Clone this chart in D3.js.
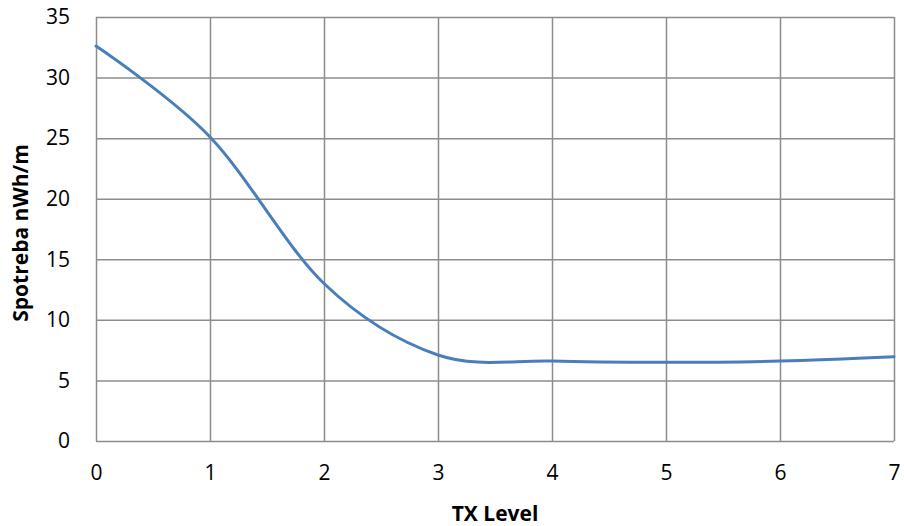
<!DOCTYPE html>
<html><head><meta charset="utf-8">
<script src="https://cdn.jsdelivr.net/npm/d3@7"></script>
<style>body{margin:0;background:#fff}svg{display:block}</style>
</head><body>
<script>
const txLevels = [0, 1, 2, 3, 4, 5, 6, 7];
const consumption = [32.6, 25.1, 13.0, 7.1, 6.6, 6.5, 6.6, 6.95];
const yTicks = [0, 5, 10, 15, 20, 25, 30, 35];
const xTicks = [0, 1, 2, 3, 4, 5, 6, 7];

const W = 904, H = 526;
const m = {left: 96, right: 10, top: 17, bottom: 85};
const svg = d3.select("body").append("svg").attr("width", W).attr("height", H);
const x = d3.scaleLinear().domain([0, 7]).range([m.left, W - m.right]);
const y = d3.scaleLinear().domain([0, 35]).range([H - m.bottom, m.top]);
const font = "'Open Sans', 'Liberation Sans', sans-serif";
const gridCol = "#8c8c8c";

// grid
svg.append("g").attr("transform", `translate(0,${H - m.bottom})`)
  .call(d3.axisBottom(x).tickValues(xTicks).tickSize(-(H - m.top - m.bottom)).tickFormat(""))
  .call(g => g.select(".domain").remove())
  .call(g => g.selectAll("line").attr("stroke", gridCol).attr("stroke-width", 1.5));
svg.append("g").attr("transform", `translate(${m.left},0)`)
  .call(d3.axisLeft(y).tickValues(yTicks).tickSize(-(W - m.left - m.right)).tickFormat(""))
  .call(g => g.select(".domain").remove())
  .call(g => g.selectAll("line").attr("stroke", gridCol).attr("stroke-width", 1.5));

// tick labels
svg.append("g").attr("transform", `translate(${m.left},0)`)
  .call(d3.axisLeft(y).tickValues(yTicks).tickSize(0).tickPadding(26).tickFormat(d3.format("d")))
  .call(g => g.select(".domain").remove())
  .call(g => g.selectAll("text").attr("font-family", font).attr("font-size", 21).attr("fill", "#000"));
svg.append("g").attr("transform", `translate(0,${H - m.bottom})`)
  .call(d3.axisBottom(x).tickValues(xTicks).tickSize(0).tickPadding(24).tickFormat(d3.format("d")))
  .call(g => g.select(".domain").remove())
  .call(g => g.selectAll("text").attr("font-family", font).attr("font-size", 21).attr("fill", "#000"));

// line
const line = d3.line().x((d, i) => x(txLevels[i])).y(d => y(d)).curve(d3.curveCardinal.tension(0));
svg.append("path").datum(consumption).attr("d", line)
  .attr("fill", "none").attr("stroke", "#4a7ebb").attr("stroke-width", 3).attr("stroke-linecap", "round");

// titles
svg.append("text").attr("x", (m.left + W - m.right) / 2).attr("y", 521)
  .attr("text-anchor", "middle").attr("font-family", font).attr("font-weight", "bold")
  .attr("font-size", 21).text("TX Level");
svg.append("text").attr("transform", `translate(28,${(m.top + H - m.bottom) / 2 + 4}) rotate(-90)`)
  .attr("text-anchor", "middle").attr("font-family", font).attr("font-weight", "bold")
  .attr("font-size", 21).text("Spotreba nWh/m");
</script>
</body></html>
